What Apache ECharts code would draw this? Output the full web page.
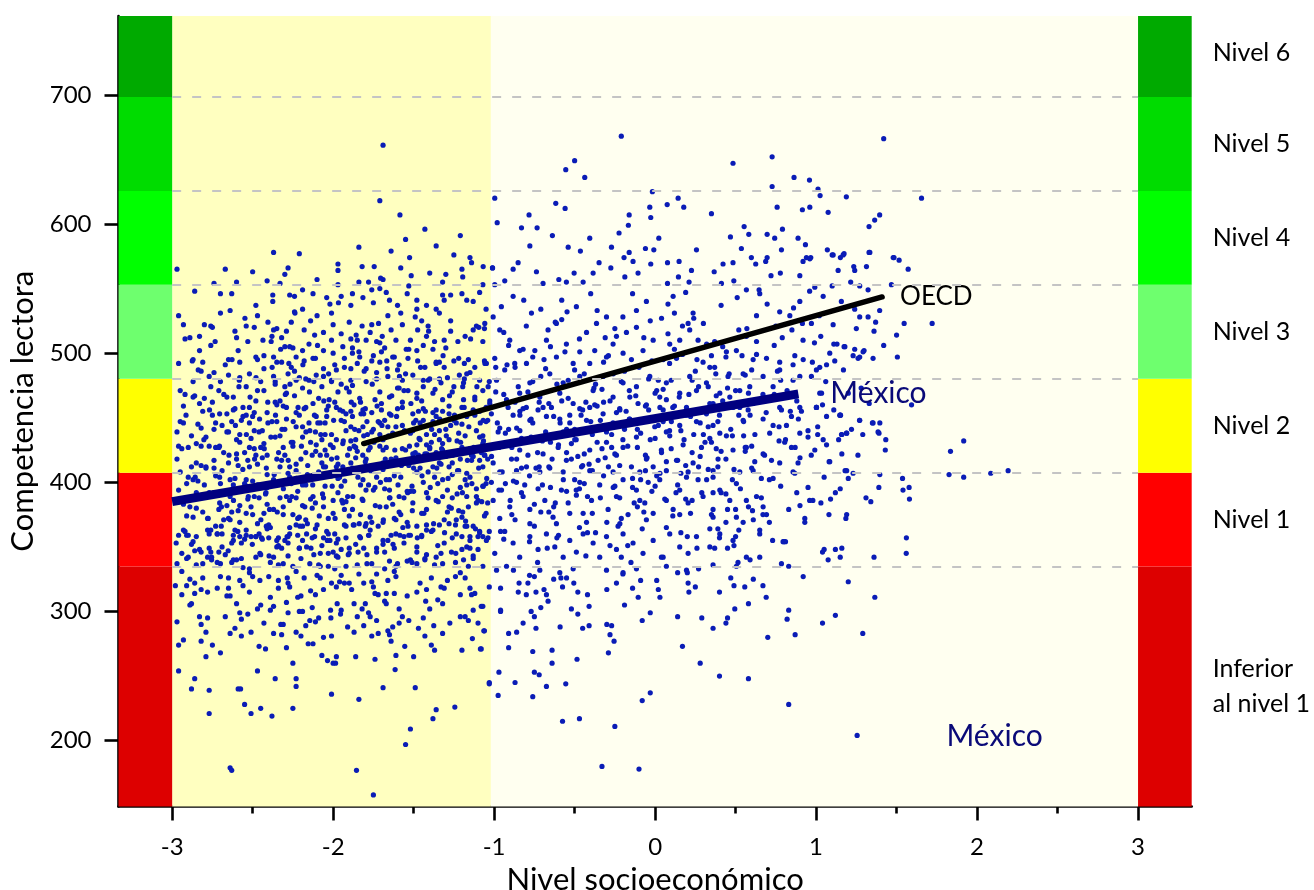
<!DOCTYPE html>
<html>
<head>
<meta charset="utf-8">
<script src="https://cdn.jsdelivr.net/npm/echarts@6/dist/echarts.min.js"></script>
<style>
  html, body { margin: 0; padding: 0; background: #ffffff; }
  #chart { width: 1314px; height: 890px; }
</style>
</head>
<body>
<div id="chart"></div>
<script>
// ---- axes ----
const xMin = -10 / 3, xMax = 10 / 3;
const yMin = 149, yMax = 761;
const xTicks = [-3, -2, -1, 0, 1, 2, 3];
const xMinorTicks = [-2.5, -1.5, -0.5, 0.5, 1.5, 2.5];
const yTicks = [200, 300, 400, 500, 600, 700];
const yMinorTicks = [250, 350, 450, 550, 650, 750];

// ---- PISA reading proficiency levels ----
const levelCuts = [149, 334.75, 407.47, 480.18, 552.89, 625.61, 698.32, 761];
const levelNames = ['Inferior\nal nivel 1', 'Nivel 1', 'Nivel 2', 'Nivel 3', 'Nivel 4', 'Nivel 5', 'Nivel 6'];
const levelColors = ['#dd0000', '#ff0000', '#ffff00', '#6eff6e', '#00ff00', '#00dc00', '#00aa00'];

// ---- socioeconomic zones behind the cloud ----
const zoneEdges = [-3, -1.02, 3];
const zoneColors = ['#ffffc0', '#fffff0'];

// ---- regression lines (ESCS vs reading score) ----
const mexicoLine = [[-3, 385], [0.89, 468.5]];
const oecdLine = [[-1.81, 430], [1.41, 543.5]];
const mexicoTag = [1.81, 203];

// ---- students: [ESCS index, reading score] ----
const studentsBottomLeft = [
[-2.96,274],[-2.96,254],[-2.93,278],[-2.86,248],[-2.88,240],[-2.88,306],[-2.82,290],[-2.82,277],[-2.79,284],[-2.79,265],
[-2.77,221],[-2.78,295],[-2.77,239],[-2.70,268],[-2.64,179],[-2.63,177],[-2.64,283],[-2.59,240],[-2.575,240],[-2.55,228],
[-2.51,221],[-2.51,284],[-2.57,281],[-2.60,306],[-2.58,299],[-2.57,294],[-2.47,254],[-2.46,273],[-2.45,225],[-2.47,302],
[-2.43,291],[-2.38,219],[-2.36,248],[-2.37,283],[-2.37,304],[-2.39,301],[-2.325,290],[-2.31,290],[-2.32,282],[-2.29,272],
[-2.29,307],[-2.28,299],[-2.25,225],[-2.25,260],[-2.23,248],[-2.23,242],[-2.23,284],[-2.20,281],[-2.21,300],[-2.19,300],
[-2.155,275],[-2.125,275],[-2.13,303],[-2.145,293],[-2.11,292],[-2.09,295],[-2.06,280],[-2.07,266],[-2.035,262],[-2.00,260],
[-1.985,260],[-1.98,265],[-2.01,236],[-2.014,295],[-2.016,301],[-1.975,306],[-1.954,298],[-1.91,288],[-1.87,284],[-1.86,265],
[-1.855,177],[-1.84,232],[-1.85,296],[-1.82,302],[-1.80,306],[-1.81,289],[-1.78,299],[-1.77,296],[-1.75,158],[-1.74,263],
[-1.72,283],[-1.69,241],[-1.67,306],[-1.66,285],[-1.65,282],[-1.64,277],[-1.61,266],[-1.615,255],[-1.59,291],[-1.59,302],
[-1.63,288],[-1.555,273],[-1.55,197],[-1.52,209],[-1.53,293],[-1.50,265],[-1.49,241],[-1.47,287],[-1.44,295],[-1.425,308],
[-1.39,274],[-1.37,270],[-1.38,217],[-1.36,224],[-1.375,289],[-1.32,283],[-1.275,291],[-1.244,226],[-1.21,296],[-1.20,270],
[-1.16,293],[-1.135,279],[-1.085,271],[-1.08,304],[-1.064,285],[-1.03,245]
];

const studentsMidLeft = [
[-2.68,371],[-2.58,369],[-2.40,367],[-2.23,367],[-2.10,367],[-1.875,367],[-1.69,369],[-1.61,371],[-1.54,369],[-1.42,367],
[-1.34,367],[-1.24,367],[-1.18,366],[-1.13,366],[-1.09,362],[-1.07,358],[-2.96,359],[-2.91,359],[-2.87,354],[-2.78,363],
[-2.72,360],[-2.69,360],[-2.61,363],[-2.58,358],[-2.54,359],[-2.51,358],[-2.48,358],[-2.445,357],[-2.41,364],[-2.34,357],
[-2.30,355],[-2.28,358],[-2.22,359],[-2.165,360],[-2.13,357],[-2.06,357],[-2.03,360],[-1.99,360],[-1.97,356],[-1.92,357],
[-1.83,357],[-1.78,359],[-1.64,359],[-1.585,359],[-1.53,359],[-1.45,359],[-1.20,358],[-1.15,355],[-2.94,345],[-2.90,342],
[-2.82,346],[-2.755,342],[-2.71,346],[-2.67,344],[-2.60,340],[-2.63,353],[-2.57,353],[-2.455,345],[-2.37,342],[-2.32,349],
[-2.28,353],[-2.21,349],[-2.165,350],[-2.08,345],[-2.03,345],[-1.95,348],[-1.90,345],[-1.845,346],[-1.81,349],[-1.73,349],
[-1.68,346],[-1.62,349],[-1.48,346],[-1.42,344],[-1.36,342],[-1.265,346],[-1.17,350],[-1.10,348],[-2.97,337],[-2.85,336],
[-2.81,337],[-2.755,340],[-2.70,337],[-2.62,340],[-2.52,333],[-2.34,336],[-2.145,337],[-2.08,335],[-2.03,335],[-1.99,333],
[-1.92,335],[-1.76,337],[-1.68,333],[-1.61,335],[-1.52,340],[-1.48,337],[-1.43,340],[-1.37,336],[-1.32,337],[-1.19,340],
[-1.16,335],[-2.98,320],[-2.94,313],[-2.91,320],[-2.86,314],[-2.82,317],[-2.78,315],[-2.81,326],[-2.70,327],[-2.65,326],
[-2.65,318],[-2.58,324],[-2.56,320],[-2.52,330],[-2.455,324],[-2.52,315],[-2.40,327],[-2.34,324],[-2.285,326],[-2.27,319],
[-2.22,311],[-2.18,326],[-2.11,313],[-2.10,328],[-2.01,322],[-1.96,323],[-1.95,328],[-1.885,317],[-1.81,322],[-1.76,323],
[-1.75,319],[-1.72,313],[-1.67,314],[-1.66,324],[-1.61,327],[-1.48,315],[-1.42,317],[-1.39,326],[-1.33,319],[-1.31,318],
[-1.21,330],[-1.18,326],[-1.15,318],[-1.14,313],[-1.12,314]
];

const studentsUpperLeft = [
[-1.69,661],[-1.71,618],[-1.64,579],[-1.84,582],[-2.37,578],[-1.97,569],[-2.28,566],[-1.82,567],[-1.745,567],[-2.50,563],
[-2.67,565],[-2.97,565],[-1.97,564],[-2.74,554],[-2.60,555],[-2.33,554],[-2.10,557],[-1.84,555],[-1.78,555],[-1.69,557],
[-1.585,607],[-1.525,574],[-1.25,576],[-1.15,574],[-1.14,570],[-1.01,566],[-1.40,562],[-1.30,561],[-1.20,565],[-1.195,559],
[-1.515,560],[-1.705,558],[-1.07,553],[-1.32,555],[-1.55,588],[-1.21,591],[-1.43,596],[-1.36,583],[-2.21,577],
[-2.70,546],[-2.375,545],[-2.375,540],[-2.27,545],[-2.24,544],[-2.125,546],[-2.02,538],[-1.95,544],[-1.88,546],[-1.89,537],
[-1.815,543],[-1.76,549],[-1.71,550],[-1.67,547],[-1.65,541],[-1.60,537],[-1.58,531],[-1.54,546],[-1.48,541],[-1.48,534],
[-1.42,537],[-1.36,534],[-1.32,545],[-1.27,545],[-1.20,546],[-1.17,541],[-1.13,540],[-1.34,531],[-2.64,533],[-2.19,534],
[-2.24,532],[-2.47,529],[-2.96,529],[-2.76,521],
[-2.93,522],[-2.89,512],[-2.83,513],[-2.83,502],[-2.75,520],[-2.61,517],[-2.53,509],[-2.49,520],[-2.405,524],[-2.35,519],
[-2.29,517],[-2.26,524],[-2.18,518],[-2.14,525],[-2.115,514],[-2.19,502],[-2.06,516],[-2.00,522],[-2.01,510],[-1.95,515],
[-1.90,524],[-1.89,511],[-1.85,510],[-1.795,510],[-1.76,522],[-1.73,509],[-1.695,513],[-1.68,504],[-1.61,510],[-1.57,522],
[-1.52,510],[-1.48,502],[-1.475,518],[-1.45,525],[-1.42,513],[-1.37,509],[-1.31,510],[-1.30,504],[-1.27,525],[-1.225,509],
[-1.18,513],[-1.13,518],[-1.095,520],[-1.06,519],[-1.88,504],[-1.94,505],[-2.06,502],[-2.25,504],[-2.30,505],[-2.385,509],
[-2.96,492],[-2.875,494],[-2.65,495],[-2.58,493],[-2.52,484],[-2.48,497],[-2.43,498],[-2.37,497],[-2.32,493],[-2.275,492],
[-2.23,497],[-2.18,494],[-2.125,496],[-2.105,483],[-2.06,488],[-2.00,500],[-1.93,489],[-1.88,500],[-1.835,497],[-1.795,488],
[-1.76,494],[-1.71,493],[-1.665,488],[-1.62,497],[-1.59,491],[-1.535,496],[-1.475,494],[-1.43,489],[-1.36,492],[-1.31,489],
[-1.25,494],[-1.185,492],[-1.12,489],[-1.09,479],[-1.06,494],[-2.06,482],[-2.77,482],[-2.45,478],[-2.36,478],[-2.28,484],
[-2.23,479],[-2.17,480],[-2.01,478],[-1.98,487],[-1.89,479],[-1.795,478],[-1.73,480],[-1.66,482],[-1.57,479],[-1.505,483],
[-1.41,479],[-1.34,480],[-1.185,480],[-1.15,485],[-1.03,478],
[-2.95,471],[-2.87,466],[-2.93,459],[-2.83,461],[-2.76,474],[-2.75,462],[-2.66,466],[-2.585,474],[-2.54,474],[-2.48,463],
[-2.43,471],[-2.36,476],[-2.30,474],[-2.24,467],[-2.19,473],[-2.125,461],[-2.07,474],[-2.025,464],[-1.97,470],[-1.90,470],
[-1.835,465],[-1.80,457],[-1.74,464],[-1.71,470],[-1.65,466],[-1.60,473],[-1.535,471],[-1.48,465],[-1.44,474],[-1.38,469],
[-1.32,464],[-1.26,470],[-1.195,474],[-1.12,466],[-1.07,471],[-2.705,453],[-2.62,456],[-2.56,458],[-2.50,451],[-2.41,454],
[-2.35,460],[-2.29,458],[-2.23,454],[-2.17,458],[-2.105,451],[-2.04,456],[-1.98,458],[-1.92,453],[-1.87,460],[-1.815,456],
[-1.70,456],[-1.65,453],[-1.57,458],[-1.505,453],[-1.44,457],[-1.36,456],[-1.28,453],[-1.20,458],[-1.13,456],[-1.05,458],
[-2.97,439],[-2.93,446],[-2.82,442],[-2.79,435],[-2.73,446],[-2.66,439],[-2.63,447],[-2.56,451],[-2.52,446],[-2.46,439],
[-2.405,446],[-2.36,435],[-2.29,449],[-2.23,443],[-2.19,435],[-2.145,440],[-2.095,446],[-2.05,446],[-2.01,437],[-1.95,448],
[-1.92,440],[-1.88,451],[-1.86,427],[-1.815,443],[-1.76,439],[-1.71,446],[-1.68,448],[-1.63,438],[-1.57,444],[-1.505,440],
[-1.46,433],[-1.44,448],[-1.38,447],[-1.34,440],[-1.28,433],[-1.235,446],[-1.17,451],[-1.09,435],[-1.04,448],[-2.90,427],
[-2.85,430],[-2.73,427],[-2.60,433],[-2.52,427],[-2.43,430],[-2.31,427],[-2.25,431],[-2.105,429],[-2.00,427],[-1.94,430],
[-1.77,427],[-1.69,433],[-1.57,426],[-1.40,427],[-1.32,430],[-1.20,427],[-1.07,430],
[-2.95,408],[-2.87,402],[-2.79,412],[-2.74,417],[-2.65,415],[-2.60,418],[-2.54,402],[-2.48,421],[-2.415,411],[-2.35,418],
[-2.27,412],[-2.20,418],[-2.145,402],[-2.07,415],[-2.01,418],[-1.96,404],[-1.89,415],[-1.85,424],[-1.795,418],[-1.73,404],
[-1.69,415],[-1.63,417],[-1.58,404],[-1.48,408],[-1.43,422],[-1.38,412],[-1.32,402],[-1.26,415],[-1.195,425],[-1.14,417],
[-1.07,412],[-2.85,415],[-2.705,404],[-2.52,412],[-2.37,402],[-2.23,409],[-1.98,412],[-1.815,402],[-1.65,402],[-1.505,422],
[-1.34,415],[-1.17,407],[-1.05,399],[-2.91,399],
[-2.89,381],[-2.87,373],[-2.81,377],[-2.705,384],[-2.64,389],[-2.58,382],[-2.54,376],[-2.46,388],[-2.395,379],[-2.31,381],
[-2.27,386],[-2.21,373],[-2.125,389],[-2.06,381],[-2.00,376],[-1.94,384],[-1.88,379],[-1.815,386],[-1.77,373],[-1.71,381],
[-1.65,388],[-1.59,377],[-1.505,384],[-1.42,379],[-1.36,386],[-1.28,381],[-1.195,377],[-1.11,384],[-1.05,376],[-2.93,363],
[-2.85,358],[-2.77,360],[-2.695,366],[-2.62,355],[-2.54,363],[-2.48,358],[-2.415,366],[-2.35,355],[-2.27,360],[-2.19,366],
[-2.115,358],[-2.04,362],[-1.98,353],[-1.92,366],[-1.835,358],[-1.77,363],[-1.69,355],[-1.61,360],[-1.535,366],[-1.45,358],
[-1.38,363],[-1.31,353],[-1.235,360],[-1.17,366],[-1.10,358],[-1.03,362],[-2.975,353],[-2.77,349],[-2.35,350],[-1.90,349],
[-1.48,350],[-1.15,349],[-2.64,371],[-2.17,371],[-1.795,368],[-1.235,371]
];

const studentsCore = [
[-2.914,452],[-2.857,404],[-2.838,487],[-2.803,433],[-2.776,372],[-2.768,456],[-2.741,392],[-2.733,509],[-2.706,428],[-2.694,381],
[-2.679,468],[-2.652,347],[-2.647,421],[-2.628,495],[-2.619,386],[-2.607,444],[-2.592,362],[-2.583,479],[-2.561,410],[-2.548,527],
[-2.539,437],[-2.527,389],[-2.516,466],[-2.502,352],[-2.488,418],[-2.479,481],[-2.468,398],[-2.457,449],[-2.449,371],[-2.436,510],
[-2.428,426],[-2.417,392],[-2.406,462],[-2.398,343],[-2.387,435],[-2.379,489],[-2.366,406],[-2.358,452],[-2.347,377],[-2.339,423],
[-2.326,503],[-2.318,441],[-2.309,395],[-2.297,468],[-2.286,358],[-2.279,417],[-2.268,476],[-2.257,389],[-2.248,447],[-2.237,531],
[-2.229,403],[-2.218,458],[-2.206,366],[-2.197,428],[-2.188,491],[-2.176,381],[-2.169,439],[-2.158,413],[-2.147,470],[-2.138,349],
[-2.127,398],[-2.116,452],[-2.108,424],[-2.097,506],[-2.086,374],[-2.077,437],[-2.066,391],[-2.058,463],[-2.047,412],[-2.036,355],
[-2.028,484],[-2.017,429],[-2.006,397],[-1.997,448],[-1.988,372],[-1.976,419],[-1.967,539],[-1.958,456],[-1.946,386],[-1.937,432],
[-1.928,401],[-1.917,473],[-1.906,344],[-1.898,426],[-1.887,462],[-1.878,389],[-1.866,441],[-1.857,514],[-1.846,404],[-1.838,368],
[-1.827,453],[-1.816,421],[-1.807,486],[-1.796,394],[-1.787,437],[-1.778,359],[-1.766,409],[-1.757,476],[-1.746,431],[-1.738,382],
[-1.727,459],[-1.718,523],[-1.706,400],[-1.697,444],[-1.688,371],[-1.676,418],[-1.667,494],[-1.656,436],[-1.647,388],[-1.636,467],
[-1.628,352],[-1.617,425],[-1.606,451],[-1.597,398],[-1.588,482],[-1.576,413],[-1.567,365],[-1.557,440],[-1.546,503],[-1.537,392],
[-1.526,428],[-1.517,461],[-1.508,378],[-1.497,416],[-1.486,448],[-1.477,357],[-1.466,434],[-1.457,489],[-1.448,405],[-1.436,376],
[-1.427,455],[-1.418,422],[-1.407,517],[-1.397,396],[-1.388,441],[-1.376,368],[-1.367,472],[-1.356,411],[-1.347,385],[-1.338,449],
[-1.326,426],[-1.317,498],[-1.308,361],[-1.297,436],[-1.286,403],[-1.277,467],[-1.266,380],[-1.257,421],[-1.246,452],[-1.238,345],
[-1.227,409],[-1.216,483],[-1.208,431],[-1.197,392],[-1.186,458],[-1.177,370],[-1.166,417],[-1.157,443],[-1.146,511],[-1.138,399],
[-1.127,427],[-1.116,364],[-1.107,474],[-1.096,411],[-1.086,446],[-1.077,385],[-1.066,432],[-1.057,492],[-1.046,403],[-1.038,357],
[-1.027,463],[-1.016,420],
[-2.62,398],[-2.41,383],[-2.33,412],[-2.14,387],[-2.02,405],[-1.93,379],[-1.74,396],[-1.62,405],[-1.52,393],[-1.41,388],
[-1.29,394],[-1.18,402],[-1.11,395],[-2.49,440],[-2.26,431],[-2.08,421],[-1.86,433],[-1.69,425],[-1.47,421],[-1.33,414],
[-1.22,438],[-1.04,418],[-2.72,360],[-2.47,368],[-2.19,355],[-1.98,343],[-1.73,346],[-1.56,353],[-1.35,351],[-1.13,343],
[-0.97,427],[-0.94,468],[-0.93,399],[-0.91,441],[-0.89,375],[-0.87,489],[-0.86,418],[-0.84,452],[-0.83,392],[-0.81,433],
[-0.79,470],[-0.78,405],[-0.76,446],[-0.75,366],[-0.73,423],[-0.71,482],[-0.70,398],[-0.68,439],[-0.66,412],[-0.65,505],
[-0.63,451],[-0.62,384],[-0.60,429],[-0.58,463],[-0.57,402],[-0.55,441],[-0.53,376],[-0.52,418],[-0.50,487],[-0.49,433],
[-0.47,395],[-0.45,456],[-0.44,422],[-0.42,361],[-0.40,447],[-0.39,409],[-0.37,476],[-0.36,431],[-0.34,388],[-0.32,462],
[-0.31,419],[-0.29,498],[-0.27,437],[-0.26,396],[-0.24,454],[-0.22,413],[-0.21,372],[-0.19,486],[-0.17,428],[-0.16,449],
[-0.14,403],[-0.12,467],[-0.11,381],[-0.09,438],[-0.07,512],[-0.06,421],[-0.04,456],[-0.02,393],[0.00,434],[0.02,479],
[0.03,407],[0.05,447],[0.07,365],[0.09,492],[0.10,426],[0.12,459],[0.14,398],[0.16,440],[0.17,521],[0.19,413],
[0.21,468],[0.23,386],[0.24,437],[0.26,495],[0.28,420],[0.30,456],[0.32,402],[0.33,474],[0.35,431],[0.37,509],
[0.39,447],[0.41,392],[0.42,463],[0.44,418],[0.46,484],[0.48,436],[0.50,379],[0.52,452],[0.54,498],[0.56,427],
[0.58,469],[0.60,411]
];

// denser fill of the main cloud
const studentsDenseLeft = [
[-2.93,383],[-2.71,471],[-2.48,342],[-2.27,505],[-2.05,397],[-1.83,462],[-1.62,331],[-1.41,408],[-1.19,477],[-2.88,436],
[-2.66,312],[-2.44,419],[-2.23,388],[-2.01,531],[-1.79,447],[-1.58,375],[-1.36,493],[-1.14,421],[-2.84,401],[-2.62,466],
[-2.40,357],[-2.19,443],[-1.97,414],[-1.75,498],[-1.54,339],[-1.32,455],[-1.10,386],[-2.80,522],[-2.58,431],[-2.36,398],
[-2.15,479],[-1.93,322],[-1.71,437],[-1.50,411],[-1.28,368],[-1.07,509],[-2.76,346],[-2.54,452],[-2.32,417],[-2.11,364],
[-1.89,488],[-1.67,402],[-1.46,446],[-1.24,327],[-2.97,418],[-2.73,405],[-2.51,381],[-2.29,469],[-2.07,433],[-1.86,352],
[-1.64,518],[-1.42,429],[-1.21,396],[-2.90,359],[-2.69,444],[-2.47,495],[-2.25,335],[-2.04,421],[-1.82,387],[-1.60,457],
[-1.39,362],[-1.17,484],[-2.86,467],[-2.64,402],[-2.43,376],[-2.21,452],[-2.00,346],[-1.78,425],[-1.56,471],[-1.35,399],
[-1.13,341],[-2.82,428],[-2.60,512],[-2.39,365],[-2.17,398],[-1.95,476],[-1.74,314],[-1.52,438],[-1.30,420],[-1.09,455],
[-2.78,389],[-2.57,341],[-2.35,447],[-2.13,421],[-1.91,389],[-1.70,501],[-1.48,366],[-1.27,444],[-1.06,374],[-2.74,485],
[-2.53,417],[-2.31,375],[-2.09,465],[-1.88,411],[-1.66,355],[-1.44,479],[-1.23,432],[-2.91,341],[-2.70,399],[-2.49,454],
[-2.28,322],[-2.06,388],[-1.84,440],[-1.63,383],[-1.41,521],[-1.20,348],[-2.87,495],[-2.65,372],[-2.45,427],[-2.24,486],
[-2.02,355],[-1.80,416],[-1.59,473],[-1.37,437],[-1.16,381],[-2.83,348],[-2.61,457],[-2.42,391],[-2.20,341],[-1.98,433],
[-1.76,369],[-1.55,425],[-1.33,345],[-1.12,464],[-2.79,411],[-2.59,378],[-2.38,513],[-2.16,406],[-1.94,455],[-1.73,329],
[-1.51,397],[-1.29,481],[-1.08,423],[-2.75,452],[-2.55,423],[-2.34,351],[-2.12,478],[-1.90,374],[-1.69,410],[-1.47,455],
[-1.26,357],[-2.96,394],[-2.72,338],[-2.50,401],[-2.30,441],[-2.08,326],[-1.87,428],[-1.65,394],[-1.43,341],[-1.22,409],
[-2.92,468],[-2.68,423],[-2.46,360],[-2.26,399],[-2.04,451],[-1.83,375],[-1.61,443],[-1.40,480],[-1.18,436],[-2.89,325],
[-2.67,491],[-2.44,440],[-2.22,372],[-2.01,405],[-1.79,344],[-1.57,462],[-1.36,423],[-1.15,358],[-2.85,380],[-2.63,338],
[-2.41,406],[-2.18,457],[-1.97,392],[-1.75,441],[-1.53,503],[-1.32,389],[-1.11,440],[-2.81,455],[-2.59,413],[-2.37,482],
[-2.14,316],[-1.93,447],[-1.72,366],[-1.49,423],[-1.28,459],[-1.07,397],[-2.77,428],[-2.55,356],[-2.33,388],[-2.11,496],
[-1.89,432],[-1.68,395],[-1.45,376],[-1.25,474],[-2.94,426],[-2.73,366],[-2.51,434],[-2.29,389],[-2.07,351],[-1.85,492],
[-1.64,418],[-1.42,363],[-1.21,418],[-2.90,404],[-2.69,350],[-2.47,471],[-2.25,428],[-2.03,372],[-1.81,453],[-1.60,337],
[-1.38,454],[-1.17,398],[-2.86,347],[-2.65,439],[-2.43,398],[-2.21,349],[-1.99,462],[-1.77,412],[-1.56,388],[-1.34,493],
[-1.13,420],[-2.82,486],[-2.61,403],[-2.39,338],[-2.17,423],[-1.95,397],[-1.73,485],[-1.52,359],[-1.30,441],[-1.09,361],
[-2.78,372],[-2.57,448],[-2.35,493],[-2.13,380],[-1.91,421],[-1.69,352],[-1.48,469],[-1.26,406],[-1.05,447],[-2.74,411],
[-2.53,387],[-2.31,459],[-2.09,408],[-1.87,367],[-1.66,443],[-1.44,400],[-1.22,378],[-2.92,362],[-2.70,478],[-2.49,426],
[-2.27,365],[-2.05,437],[-1.84,501],[-1.62,372],[-1.40,426],[-1.19,464],[-2.88,412],[-2.66,382],[-2.45,344],[-2.23,414],
[-2.01,479],[-1.80,366],[-1.58,416],[-1.36,451],[-1.15,404],[-2.84,445],[-2.62,359],[-2.41,421],[-2.19,398],[-1.97,342],
[-1.76,454],[-1.54,393],[-1.32,425],[-1.11,389],[-2.80,398],[-2.58,481],[-2.37,379],[-2.15,446],[-1.93,367],[-1.71,428],
[-1.50,446],[-1.29,377],[-1.07,436],[-2.76,363],[-2.54,397],[-2.33,436],[-2.11,384],[-1.89,455],[-1.67,381],[-1.46,411],
[-1.25,448],[-2.95,447],[-2.71,427],[-2.50,375],[-2.28,407],[-2.06,412],[-1.85,336],[-1.63,497],[-1.42,392],[-1.20,373],
[-2.94,331],[-2.83,296],[-2.72,318],[-2.61,287],[-2.50,327],[-2.39,311],[-2.28,343],[-2.17,289],[-2.06,317],[-1.95,301],
[-1.84,329],[-1.73,293],[-1.62,314],[-1.51,338],[-1.40,302],[-1.29,324],[-1.18,296],[-1.07,335],[-2.89,305],[-2.78,342],
[-2.67,296],[-2.56,334],[-2.45,305],[-2.34,318],[-2.23,331],[-2.12,344],[-2.01,281],[-1.90,322],[-1.79,337],[-1.68,308],
[-1.57,296],[-1.46,322],[-1.35,309],[-1.24,338],[-1.13,301],[-2.97,292],[-2.86,322],[-2.75,274],[-2.64,312],[-2.53,298],
[-2.42,271],[-2.31,337],[-2.20,312],[-2.09,336],[-1.98,319],[-1.87,306],[-1.76,281],[-1.65,339],[-1.54,312],[-1.43,281],
[-1.32,306],[-1.21,313],[-1.10,291],[-2.92,511],[-2.81,493],[-2.70,531],[-2.59,502],[-2.48,537],[-2.37,518],[-2.26,489],
[-2.15,507],[-2.04,543],[-1.93,496],[-1.82,521],[-1.71,508],[-1.60,487],[-1.49,528],[-1.38,503],[-1.27,517],[-1.16,495],
[-1.05,534],[-2.87,478],[-2.76,506],[-2.65,483],[-2.54,521],[-2.43,488],[-2.32,512],[-2.21,481],[-2.10,529],[-1.99,491],
[-1.88,475],[-1.77,516],[-1.66,529],[-1.55,484],[-1.44,506],[-1.33,477],[-1.22,496],[-1.11,521],[-2.63,546],[-2.41,556],
[-2.19,549],[-1.97,553],[-1.75,539],[-1.53,552],[-1.31,541],[-1.09,547],[-2.86,548],[-2.30,561],[-1.58,566],
[-2.96,428],[-2.85,392],[-2.74,441],[-2.63,377],[-2.52,458],[-2.41,396],[-2.30,421],[-2.19,382],[-2.08,446],[-1.97,403],
[-1.86,419],[-1.75,394],[-1.64,452],[-1.53,413],[-1.42,437],[-1.31,371],[-1.20,445],[-1.09,417],[-2.91,374],[-2.80,465],
[-2.69,409],[-2.58,437],[-2.47,414],[-2.36,462],[-2.25,375],[-2.14,431],[-2.03,459],[-1.92,385],[-1.81,436],[-1.70,461],
[-1.59,389],[-1.48,429],[-1.37,404],[-1.26,388],[-1.15,426],[-1.04,384],[-2.88,352],[-2.77,392],[-2.66,453],[-2.55,399],
[-2.44,356],[-2.33,463],[-2.22,393],[-2.11,439],[-2.00,386],[-1.89,443],[-1.78,398],[-1.67,427],[-1.56,358],[-1.45,463],
[-1.34,433],[-1.23,391],[-1.12,452],[-2.82,413],[-2.71,379],[-2.60,422],[-2.49,389],[-2.38,447],[-2.27,404],[-2.16,368],
[-2.05,425],[-1.94,412],[-1.83,398],[-1.72,447],[-1.61,419],[-1.50,393],[-1.39,431],[-1.28,412],[-1.17,389],[-1.06,421]
];

const studentsDenseRight = [
[-0.98,446],[-0.87,371],[-0.76,497],[-0.64,418],[-0.53,452],[-0.42,389],[-0.31,512],[-0.20,433],[-0.08,364],[0.03,458],
[0.14,417],[0.25,486],[0.36,392],[0.47,441],[0.57,519],[-0.95,408],[-0.84,455],[-0.73,338],[-0.61,476],[-0.50,402],
[-0.39,437],[-0.28,351],[-0.16,471],[-0.05,419],[0.06,387],[0.17,499],[0.28,446],[0.39,412],[0.50,471],[-0.92,491],
[-0.81,398],[-0.70,432],[-0.58,526],[-0.47,365],[-0.36,459],[-0.24,421],[-0.13,384],[-0.02,494],[0.09,440],[0.20,358],
[0.31,431],[0.42,505],[0.53,395],[-0.89,427],[-0.78,354],[-0.66,461],[-0.55,393],[-0.44,484],[-0.33,426],[-0.21,342],
[-0.10,448],[0.01,405],[0.12,531],[0.23,423],[0.34,461],[0.45,379],[0.55,436],[-0.96,362],[-0.85,474],[-0.74,411],
[-0.63,381],[-0.51,437],[-0.40,546],[-0.29,412],[-0.18,455],[-0.07,377],[0.04,423],[0.15,466],[0.26,349],[0.37,489],
[0.48,402],[0.59,452],[-0.93,438],[-0.82,503],[-0.71,377],[-0.59,446],[-0.48,420],[-0.37,361],[-0.26,484],[-0.14,396],
[-0.03,433],[0.08,515],[0.19,387],[0.30,437],[0.41,424],[0.52,363],[-0.90,386],[-0.79,421],[-0.67,349],[-0.56,501],
[-0.45,413],[-0.34,448],[-0.23,366],[-0.11,427],[0.00,469],[0.11,374],[0.22,451],[0.33,410],[0.44,497],[0.56,424],
[-0.99,470],[-0.88,332],[-0.77,435],[-0.65,396],[-0.54,465],[-0.43,343],[-0.32,405],[-0.20,528],[-0.09,402],[0.02,444],
[0.13,392],[0.24,527],[0.35,375],[0.46,458],[0.58,381],[-0.94,516],[-0.83,411],[-0.72,462],[-0.60,359],[-0.49,394],
[-0.38,473],[-0.27,427],[-0.15,338],[-0.04,480],[0.07,416],[0.18,433],[0.29,392],[0.40,452],[0.51,543],[-0.86,442],
[-0.75,383],[-0.62,524],[-0.52,430],[-0.41,414],[-0.30,369],[-0.19,441],[-0.06,459],[0.05,342],[0.16,407],[0.27,474],
[0.38,426],[0.49,410],[0.60,487],[-0.97,394],[-0.80,458],[-0.68,488],[-0.46,452],[-0.25,397],[0.10,479],[0.32,507],
[0.62,437],[0.71,402],[0.79,512],[0.88,463],[0.97,421],[1.06,478],[1.15,395],[1.24,534],[1.33,461],[0.65,546],
[0.74,468],[0.83,379],[0.92,495],[1.01,437],[1.10,552],[1.19,409],[1.28,473],[0.68,421],[0.77,443],[0.86,535],
[0.95,396],[1.04,460],[1.13,507],[1.22,441],[1.31,388],[0.63,499],[0.72,560],[0.81,433],[0.90,419],[0.99,508],
[1.08,375],[1.17,487],[1.26,421],[1.36,517],[0.66,388],[0.75,521],[0.84,455],[0.93,372],[1.02,529],[1.11,456],
[1.20,469],[1.29,437],[0.69,454],[0.78,397],[0.87,427],[0.96,548],[1.05,404],[1.14,433],[1.23,498],[0.61,371],
[-0.96,301],[-0.85,315],[-0.74,287],[-0.63,325],[-0.52,302],[-0.41,289],[-0.30,317],[-0.19,305],[-0.08,293],[0.03,311],
[0.14,296],[0.25,319],[0.36,287],[0.47,326],[0.58,306],[0.69,311],[-0.91,506],[-0.80,521],[-0.69,495],[-0.58,541],
[-0.47,511],[-0.36,533],[-0.25,519],[-0.14,546],[-0.03,525],[0.08,538],[0.19,547],[0.30,523],[0.41,537],[0.52,518],
[0.63,529],[0.74,506],[0.85,518],[-0.88,401],[-0.77,449],[-0.66,377],[-0.55,423],[-0.44,399],[-0.33,472],[-0.22,388],
[-0.11,441],[0.00,397],[0.11,458],[0.22,376],[0.33,443],[0.44,391],[0.55,447],[0.66,403],[0.77,432],[0.88,392],
[-0.94,356],[-0.83,434],[-0.72,412],[-0.61,357],[-0.50,441],[-0.39,376],[-0.28,463],[-0.17,351],[-0.06,409],[0.05,472],
[0.16,361],[0.27,412],[0.38,467],[0.49,351],[0.60,428],[0.71,369],[0.82,471],[-0.99,489],[-0.87,462],[-0.76,478],
[-0.65,431],[-0.54,479],[-0.43,462],[-0.32,493],[-0.21,478],[-0.10,489],[0.01,471],[0.12,503],[0.23,479],[0.34,489],
[0.45,473],[0.56,483],[0.67,468],[0.78,479],[0.89,449]
];

const studentsUpperRight = [
[-0.21,668],[1.42,666],[-0.50,649],[-0.555,642],[-0.437,636],[0.484,647],[0.727,652],[0.727,629],[0.863,636],[0.959,634],
[1.012,627],[1.025,622],[1.188,621],[-0.996,620],[-0.017,625],[1.075,609],[0.961,613],[0.915,611],[0.758,613],[1.395,607],
[1.364,603],[1.329,598],[0.35,608],[0.143,620],[0.178,613],[0.075,615],[-0.033,613],[-0.027,605],[-0.161,607],[-0.166,599],
[-0.224,593],[-0.617,616],[-0.559,612],[-0.783,607],[-0.83,597],[-0.733,597],[-0.981,601],[-0.778,583],[-0.638,591],[-0.406,589],
[-0.54,582],[-0.464,579],[-0.271,582],[-0.193,574],[-0.161,578],[-0.137,571],[-0.06,581],[-0.027,569],[-0.008,580],[0.023,589],
[0.077,570],[0.149,571],[0.226,564],[0.257,580],[0.367,563],[0.422,569],[0.468,590],[0.484,570],[0.536,581],[0.553,598],
[0.582,592],[0.598,574],[0.625,569],[0.696,592],[0.687,571],[0.696,574],[0.743,589],[0.791,596],[0.785,580],[0.778,562],
[0.888,589],[0.934,584],[0.967,574],[0.919,571],[1.07,580],[1.10,576],[1.151,574],[1.174,577],[1.234,567],[1.329,578],
[1.313,567],[1.484,574],[1.516,572],[1.572,565],[0.899,560],[-1.068,567],[-1.01,566],[-0.996,553],[-0.934,556],[-0.882,565],
[-0.851,570],[-0.737,563],[-0.696,554],[-0.598,557],[-0.551,555],[-0.503,562],[-0.447,555],[-0.385,562],[-0.348,570],[-0.275,566],
[-0.188,559],[-0.106,562],[0.077,554],[0.145,559],[0.211,555],[0.412,554],[0.489,556],[0.567,549],[0.646,549],[0.696,538],
[0.774,532],[0.837,529],[0.899,540],[0.992,551],[1.044,544],[1.157,540],[1.215,555],[1.271,552],[1.323,549],[1.468,553],
[1.271,528],[1.323,528],[1.395,533],[1.37,524],[1.547,523],[1.50,514],[1.42,506],[1.505,497],[1.354,496],[1.271,497],
[1.298,502],[1.174,505],[1.11,507],[1.085,500],[1.029,513],[1.106,522],[1.25,519],[0.971,523],[0.915,523],[0.919,510],
[0.868,498],[0.857,491],[0.977,493],[1.002,487],[1.023,489],[0.971,482],[0.899,482],[0.774,493],[0.76,486],[0.692,496],
[0.609,495],[0.63,509],[0.567,513],[0.505,502],[0.443,501],[0.547,484],[0.453,482],[0.377,484],[0.35,498],[0.298,493],
[0.267,510],[0.215,518],[0.153,510],[0.205,523],[0.236,531],[0.112,544],[0.04,527],[-0.054,540],[-0.116,533],[-0.116,520],
[-0.178,516],[-0.24,513],[-0.302,528],[-0.364,523],[-0.426,516],[-0.489,536],[-0.547,532],[-0.613,523],[-0.665,518],[-0.71,534],
[-0.768,531],[-0.816,541],[-0.882,544],[-0.955,536],[-1.006,528],[-1.058,523],[-0.965,518],[-0.903,510],[-0.841,502],[-0.872,492],
[-0.934,487],[-0.996,496],[-1.048,492],[-0.985,479],[-1.037,474],[-0.799,492],[-0.747,502],[-0.675,510],[-0.613,497],[-0.551,507],
[-0.509,492],[-0.468,501],[-0.406,492],[-0.375,502],[-0.302,497],[-0.261,507],[-0.199,500],[-0.147,495],[-0.075,502],[-0.012,510],
[0.05,495],[0.091,507],[0.133,496],[-0.654,484],[-0.571,477],[-0.778,477],[-0.841,469],[-0.923,464],[-1.027,461],[-0.716,466],
[-0.468,482],[-0.385,471],[-0.323,482],[-0.261,466],[-0.199,477],[-0.157,466],[-0.116,474],[-0.033,482],[0.029,466],[0.07,477],
[0.153,469],[0.215,482],[0.257,471],[0.319,477],[0.402,469],[0.464,466],[0.526,471],[0.588,474],[0.671,482],[0.733,474],
[0.774,487],[0.857,479],[1.023,469],[1.002,458],[0.899,458],[-0.592,469],[-0.509,461],[-0.696,458],[-0.406,458],[-0.22,457],
[-0.054,460],[0.07,464],[0.195,458],[0.36,461],[0.526,458],[0.609,461],[0.774,458],
[1.721,523],[1.065,451],[1.152,452],[1.189,438],[1.158,437],[1.655,620],[1.835,424],[1.917,432],[1.396,446],[1.433,433],
[1.593,460],[1.034,469],[1.003,458],[1.137,564],[1.24,564],[0.94,574],[0.961,573],[1.106,576],[1.168,576],[1.334,578],
[1.479,574],[1.292,501],[1.261,496],[1.24,503],[1.179,505],[1.116,494],[1.065,491]
];

const studentsLowerRight = [
[-1.068,448],[-1.017,453],[-0.965,442],[-0.913,458],[-0.882,452],[-0.82,457],[-0.778,448],[-0.727,456],[-0.675,451],[-0.644,458],
[-0.592,449],[-0.53,446],[-0.468,457],[-0.426,448],[-0.375,460],[-0.323,453],[-0.261,446],[-0.219,456],[-0.157,449],[-0.106,461],
[-0.002,443],[0.05,456],[0.101,447],[0.153,444],[0.195,452],[0.257,447],[0.319,453],[0.36,444],[0.484,458],[0.547,448],
[0.578,456],[0.671,449],[0.733,444],[0.785,456],[0.847,451],[0.909,455],[0.95,440],[1.002,458],[1.147,452],[1.271,448],
[1.354,446],[1.391,438],[0.816,444],[0.899,438],[-0.975,439],[-0.84,440],[-0.571,439],[-0.302,439],[0.07,439],[0.402,438],
[0.712,438],
[-1.058,421],[-1.006,415],[-0.944,430],[-0.892,418],[-0.841,425],[-0.799,412],[-0.747,433],[-0.696,422],[-0.654,411],[-0.602,427],
[-0.551,417],[-0.499,433],[-0.457,412],[-0.406,425],[-0.354,417],[-0.302,431],[-0.25,422],[-0.199,427],[-0.147,412],[-0.116,435],
[-0.054,418],[-0.012,412],[0.039,425],[0.091,436],[0.133,417],[0.174,429],[0.236,415],[0.288,427],[0.34,434],[0.391,418],
[0.443,436],[0.484,425],[0.567,427],[0.619,416],[0.671,422],[0.723,417],[0.774,415],[0.805,431],[0.847,427],[0.888,415],
[0.95,435],[0.992,425],[1.081,416],[1.044,433],[-0.965,408],[-0.861,409],[-0.716,408],[-0.571,408],[-0.406,409],[-0.261,408],
[-0.095,408],[0.07,409],[0.205,408],[0.36,409],[0.526,408],[0.609,409],[0.857,408],
[1.16,422],[1.085,416],[1.43,425],[1.385,439],[1.35,446],[1.27,448],[1.19,438],[1.16,437],[1.01,443],[1.065,429],
[1.15,452],[1.20,403],[1.23,407],[1.18,409],
[-1.068,397],[-1.006,386],[-0.954,394],[-0.903,381],[-0.861,400],[-0.82,389],[-0.778,379],[-0.727,395],[-0.685,386],[-0.634,373],
[-0.582,394],[-0.54,384],[-0.489,390],[-0.447,376],[-0.395,386],[-0.344,398],[-0.292,379],[-0.24,389],[-0.199,402],[-0.168,375],
[-0.116,394],[-0.064,384],[-0.012,376],[0.029,402],[0.07,386],[0.112,379],[0.153,394],[0.205,384],[0.267,402],[0.298,389],
[0.36,379],[0.402,394],[0.464,386],[0.505,399],[0.567,386],[0.63,389],[0.671,381],[0.505,373],[0.692,375],[0.36,373],
[0.153,375],[-0.054,371],[-0.219,368],[-0.426,369],[-0.613,368],[-0.778,368],[-0.965,372],[-1.017,400],[-0.468,400],[-0.043,400],
[0.868,407],[0.195,404],[-0.095,386],[0.36,404],[0.733,403],
[0.93,369],[0.98,386],[1.03,384],[1.09,387],[1.12,392],[0.90,382],[1.19,375],[1.185,372],[1.34,385],[1.39,396],
[1.54,394],[1.58,387],[0.96,386],[0.65,363],[0.34,364],[0.39,364],[0.44,369],[0.547,369],[0.605,378],[0.67,375],
[1.396,406],[1.537,403],[1.578,396],[1.826,406],[1.917,404],[2.085,407],[2.193,409],[1.561,357],
[-1.048,355],[-0.996,345],[-0.934,362],[-0.882,353],[-0.841,342],[-0.778,358],[-0.727,348],[-0.675,360],[-0.623,350],[-0.571,342],
[-0.53,355],[-0.489,346],[-0.447,360],[-0.385,353],[-0.344,342],[-0.302,358],[-0.24,348],[-0.199,360],[-0.137,353],[-0.075,345],
[-0.012,355],[0.039,342],[0.091,360],[0.153,350],[0.205,345],[0.257,358],[0.34,350],[0.402,360],[0.484,355],[0.567,342],
[0.65,360],[-0.923,335],[-0.716,332],[-0.509,333],[-0.302,332],[-0.116,333],[0.07,335],[0.195,332],[0.36,336],[-0.985,332],
[-0.592,330],[-0.199,330],
[1.04,346],[1.075,340],[1.16,349],[1.15,342],[1.36,342],[1.56,345],[1.05,348],[1.12,348],[0.795,354],[0.81,354],
[0.73,355],[0.515,338],[0.59,340],[0.65,342],[0.505,335],[0.45,349],[0.50,358],[0.40,357],[0.37,349],[0.80,354],
[-1.03,319],[-0.96,318],[-1.07,304],[-0.96,300],[-1.06,285],[-1.08,271],[-1.03,244],[-0.975,235],[-0.97,253],[-0.91,283],
[-0.91,272],[-0.87,245],[-0.86,284],[-0.82,291],[-0.845,322],[-0.79,322],[-0.78,328],[-0.80,313],[-0.75,327],[-0.77,300],
[-0.75,296],[-0.74,315],[-0.71,303],[-0.69,317],[-0.675,313],[-0.665,308],[-0.76,269],[-0.75,253],[-0.72,251],[-0.76,234],
[-0.675,242],[-0.64,270],[-0.64,260],[-0.59,288],[-0.575,215],[-0.555,244],[-0.485,263],[-0.47,217],[-0.45,287],[-0.48,298],
[-0.48,315],[-0.42,313],[-0.41,304],[-0.585,326],[-0.575,319],[-0.55,326],[-0.505,322],[-0.33,180],[-0.10,178],[-0.25,211],
[-0.30,290],[-0.27,289],[-0.28,282],[-0.255,277],[-0.29,268],[-0.24,322],[-0.20,329],[-0.14,318],[-0.105,311],[-0.09,324],
[-0.08,231],[-0.03,237],[-0.03,299],[0.01,324],[0.02,317],[0.14,330],[0.17,273],[0.20,330],[0.205,322],[0.21,315],
[0.28,260],[0.29,295],[0.27,333],[0.40,250],[0.40,315],[0.44,291],[0.45,295],[0.495,302],[0.49,320],[0.557,319],
[0.58,248],[0.61,325],[0.67,320],[0.70,280],[0.82,294],[0.83,301],[0.87,282],[0.83,228],[0.92,327],[1.04,291],
[1.12,297],[1.20,323],[1.29,283],[1.365,311],[1.255,204],[0.785,337],[0.83,335]
];

const students = [].concat(studentsBottomLeft, studentsMidLeft, studentsUpperLeft, studentsCore,
  studentsDenseLeft, studentsDenseRight, studentsUpperRight, studentsLowerRight);

// ---- marker building ----
const FONT = 'Lato, "Open Sans", sans-serif';
const areas = [];
// shaded SES zones
for (let i = 0; i < zoneColors.length; i++) {
  areas.push([
    { xAxis: zoneEdges[i], yAxis: yMin, itemStyle: { color: zoneColors[i] }, label: { show: false } },
    { xAxis: zoneEdges[i + 1], yAxis: yMax }
  ]);
}
// coloured proficiency bars on both sides; the right one carries the names
for (let i = 0; i < levelNames.length; i++) {
  areas.push([
    { xAxis: xMin, yAxis: levelCuts[i], itemStyle: { color: levelColors[i] }, label: { show: false } },
    { xAxis: -3, yAxis: levelCuts[i + 1] }
  ]);
  areas.push([
    { xAxis: 3, yAxis: levelCuts[i], name: levelNames[i], itemStyle: { color: levelColors[i] },
      label: { show: true, position: 'right', distance: 21, formatter: '{b}',
               offset: [0, i === levelNames.length - 1 ? -4 : 0],
               color: '#000', fontSize: 25, fontFamily: FONT, lineHeight: 35, align: 'left' } },
    { xAxis: xMax, yAxis: levelCuts[i + 1] }
  ]);
}
const cutLines = levelCuts.slice(1, -1).map(v => [{ coord: [-3, v] }, { coord: [3, v] }]);

const axisLineStyle = { color: '#000', width: 2.6 };
const navyText = { color: '#0a0a78', fontSize: 30, fontFamily: FONT, opacity: 1, textBorderWidth: 0 };

const chart = echarts.init(document.getElementById('chart'), null, { renderer: 'canvas' });
chart.setOption({
  animation: false,
  backgroundColor: '#ffffff',
  grid: { left: 118.5, right: 122.3, top: 16, bottom: 83.5, containLabel: false, outerBoundsMode: 'none' },
  xAxis: [
    {
      type: 'value', min: xMin, max: xMax, position: 'bottom',
      name: 'Nivel socioeconómico', nameLocation: 'middle', nameGap: 56,
      nameTextStyle: { fontSize: 31, fontFamily: FONT, color: '#000' },
      axisLine: { show: true, onZero: false, lineStyle: axisLineStyle },
      axisTick: { show: true, inside: false, length: 14, customValues: xTicks, lineStyle: axisLineStyle },
      axisLabel: { show: true, customValues: xTicks, margin: 29, fontSize: 24, fontFamily: FONT, color: '#000' },
      splitLine: { show: false }
    },
    {
      type: 'value', min: xMin, max: xMax, position: 'bottom',
      axisLine: { show: false },
      axisTick: { show: true, inside: false, length: 7, customValues: xMinorTicks, lineStyle: axisLineStyle },
      axisLabel: { show: false },
      splitLine: { show: false }
    }
  ],
  yAxis: [
    {
      type: 'value', min: yMin, max: yMax, position: 'left',
      name: 'Competencia lectora', nameLocation: 'middle', nameGap: 68,
      nameTextStyle: { fontSize: 31, fontFamily: FONT, color: '#000' },
      axisLine: { show: true, onZero: false, lineStyle: axisLineStyle },
      axisTick: { show: true, inside: false, length: 14, customValues: yTicks, lineStyle: axisLineStyle },
      axisLabel: { show: true, customValues: yTicks, margin: 27, fontSize: 24, fontFamily: FONT, color: '#000' },
      splitLine: { show: false }
    },
    {
      type: 'value', min: yMin, max: yMax, position: 'left',
      axisLine: { show: false },
      axisTick: { show: true, inside: false, length: 7, customValues: yMinorTicks, lineStyle: axisLineStyle },
      axisLabel: { show: false },
      splitLine: { show: false }
    }
  ],
  series: [
    {
      name: 'fondo', type: 'line', data: [], z: 0, silent: true,
      markArea: { silent: true, data: areas },
      markLine: {
        silent: true, symbol: ['none', 'none'], label: { show: false },
        lineStyle: { color: '#c4c4c4', width: 2, type: [9, 11] },
        data: cutLines
      }
    },
    {
      name: 'Estudiantes', type: 'scatter', data: students, z: 2, silent: true,
      symbol: 'circle', symbolSize: 5.2,
      itemStyle: { color: '#0a1cb6', opacity: 1 }
    },
    {
      name: 'México', type: 'line', data: mexicoLine, z: 3, silent: true,
      showSymbol: false, symbol: 'none',
      lineStyle: { color: '#000080', width: 9, cap: 'butt' },
      endLabel: Object.assign({ show: true, formatter: 'México', distance: 32 }, navyText)
    },
    {
      name: 'OECD', type: 'line', data: oecdLine, z: 3, silent: true,
      showSymbol: false, symbol: 'none',
      lineStyle: { color: '#000000', width: 5.5, cap: 'round' },
      endLabel: { show: true, formatter: 'OECD', distance: 18, color: '#000', fontSize: 26, fontFamily: FONT, opacity: 1 }
    },
    {
      name: 'etiqueta', type: 'scatter', data: [mexicoTag], z: 4, silent: true,
      symbolSize: 0, itemStyle: { opacity: 1 },
      label: Object.assign({ show: true, position: 'right', distance: 0, formatter: 'México' }, navyText)
    }
  ]
});
</script>
</body>
</html>
